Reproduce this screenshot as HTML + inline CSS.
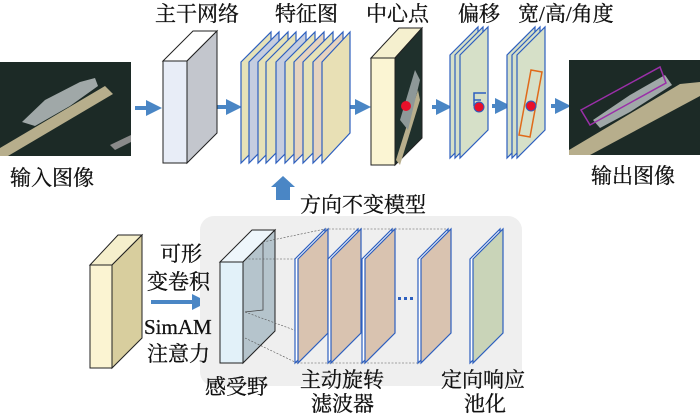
<!DOCTYPE html>
<html><head><meta charset="utf-8"><style>
html,body{margin:0;padding:0;background:#fff}
svg{display:block}
text{font-family:"Liberation Serif","Noto Serif CJK SC","Noto Sans CJK SC",serif;fill:#111;stroke:#111;stroke-width:0.3}
</style></head><body>
<svg width="700" height="418" viewBox="0 0 700 418" xmlns="http://www.w3.org/2000/svg">
<defs>
<marker id="ah" markerWidth="4" markerHeight="4" refX="2" refY="2" orient="auto"><path d="M0,0 L4,2 L0,4z" fill="#4a86c5"/></marker>
</defs>
<g font-size="21">
<text x="155" y="21">主干网络</text>
<text x="275" y="21">特征图</text>
<text x="366" y="21">中心点</text>
<text x="458" y="21">偏移</text>
<text x="518" y="21">宽/高/角度</text>
<text x="10" y="185">输入图像</text>
<text x="591" y="183">输出图像</text>
<text x="300" y="212">方向不变模型</text>
</g>
<!-- input image -->
<rect x="0" y="62" width="131" height="94" fill="#1c2a26"/>
<path d="M0,148 L105,86 L113,94 L8,156 L0,156z" fill="#b7ae8c"/>
<path d="M22,122 L45,100 L80,82 L95,78 L98,86 L70,106 L35,126z" fill="#a0a8a8"/>
<path d="M110,145 L131,135 L131,142 L115,150z" fill="#8a8a8a"/>
<g stroke="#4a86c5" stroke-width="4" fill="none" marker-end="url(#ah)">
<line x1="135" y1="108" x2="154" y2="108"/>
<line x1="216" y1="107" x2="234" y2="107"/>
<line x1="343" y1="107" x2="363" y2="107"/>
<line x1="432" y1="107" x2="444" y2="107"/>
<line x1="492" y1="106" x2="503" y2="106"/>
<line x1="551" y1="106" x2="563" y2="106"/>
<line x1="151" y1="302" x2="200" y2="302"/>
<line x1="452" y1="297" x2="464" y2="297"/>
</g>
<path d="M276,200 V187 H271 L283,176 L295,187 H290 V200z" fill="#4a86c5"/>
<!-- backbone -->
<polygon points="163,61 193,31 217,31 187,61" fill="#fff" stroke="#222"/>
<polygon points="187,61 217,31 217,133 187,163" fill="#c3c6cd" stroke="#222"/>
<rect x="163" y="61" width="24" height="102" fill="#e8edf7" stroke="#222"/>
<g stroke="#2d5fbf" stroke-width="1.2">
<polygon points="241,62 271,32 271,133 241,163" fill="#e6e2b8"/>
<polygon points="249,62 279,32 279,133 249,163" fill="#c5cde0"/>
<polygon points="258,62 288,32 288,133 258,163" fill="#e6e2b8"/>
<polygon points="266,62 296,32 296,133 266,163" fill="#e6e2b8"/>
<polygon points="276,62 306,32 306,133 276,163" fill="#c5cde0"/>
<polygon points="285,62 315,32 315,133 285,163" fill="#e6e2b8"/>
<polygon points="294,62 324,32 324,133 294,163" fill="#e6d3c0"/>
<polygon points="303,62 333,32 333,133 303,163" fill="#e6e2b8"/>
<polygon points="313,62 343,32 343,133 313,163" fill="#e6d3c0"/>
<polygon points="322,62 350,32 350,133 322,163" fill="#e8e0b5"/>
</g>
<!-- center point -->
<polygon points="371,58 399,28 422,28 395,58" fill="#f5f0cf" stroke="#222"/>
<polygon points="395,58 422,28 422,138 395,165" fill="#1f302c" stroke="#222"/>
<path d="M396,160 L418,90 L420,100 L400,165z" fill="#b7ae8c"/>
<path d="M400,120 L415,70 L420,80 L408,130z" fill="#8e9898"/>
<rect x="371" y="58" width="24" height="107" fill="#fbf5d3" stroke="#222"/>
<circle cx="406" cy="106" r="5" fill="#e8102a"/>
<g stroke="#2d5fbf" stroke-width="1.2" fill="#d6e0c8">
<polygon points="450,55 478,27 478,130 450,158"/>
<polygon points="455,55 483,27 483,130 455,158"/>
<polygon points="460,55 488,27 488,130 460,158"/>
</g>
<path d="M474,106 V93 H486 M474,100 H481" stroke="#2d5fbf" stroke-width="1.5" fill="none"/>
<circle cx="479" cy="107" r="5" fill="#e8102a" stroke="#2d5fbf"/>
<g stroke="#2d5fbf" stroke-width="1.2" fill="#d6e0c8">
<polygon points="507,55 535,27 535,130 507,158"/>
<polygon points="512,55 540,27 540,130 512,158"/>
<polygon points="517,55 545,27 545,130 517,158"/>
</g>
<polygon points="531,70 542,72 530,137 519,135" fill="none" stroke="#e06a1a" stroke-width="1.5"/>
<circle cx="531" cy="106" r="5" fill="#e8102a" stroke="#2d5fbf"/>
<!-- output image -->
<rect x="569" y="60" width="131" height="95" fill="#1c2a26"/>
<path d="M569,150 L680,84 L700,82 L700,96 L590,155 L569,155z" fill="#b7ae8c"/>
<path d="M593,120 L630,95 L665,75 L672,85 L630,112 L600,128z" fill="#a0a8a8"/>
<polygon points="581,110 660,67 666,83 590,125" fill="none" stroke="#9a2fa8" stroke-width="1.5"/>
<rect x="200" y="216" width="322" height="170" rx="14" fill="#efefef"/>
<polygon points="90,265 118,235 142,235 112,265" fill="#f5efcc" stroke="#222"/>
<polygon points="112,265 142,235 142,338 112,368" fill="#d8ce9e" stroke="#222"/>
<rect x="90" y="265" width="22" height="103" fill="#fbf4d2" stroke="#222"/>
<g font-size="21">
<text x="160" y="261">可形</text>
<text x="147" y="289">变卷积</text>
<text x="144" y="334">SimAM</text>
<text x="147" y="361">注意力</text>
<text x="205" y="394">感受野</text>
<text x="300" y="387">主动旋转</text>
<text x="311" y="411">滤波器</text>
<text x="441" y="387">定向响应</text>
<text x="464" y="411">池化</text>
</g>
<polygon points="220,262 252,230 275,230 243,262" fill="#eef6fb" stroke="#222"/>
<polygon points="243,262 275,230 275,331 243,363" fill="#b5c4cc" stroke="#222"/>
<polyline points="263,242 263,310 245,312" fill="none" stroke="#444" stroke-width="0.8"/>
<rect x="220" y="262" width="23" height="101" fill="#e2f1f9" stroke="#222"/>
<g stroke="#555" stroke-width="0.6" stroke-dasharray="2,1.5" fill="none">
<line x1="263" y1="242" x2="325" y2="229"/>
<line x1="245" y1="259" x2="297" y2="259"/>
<line x1="245" y1="312" x2="297" y2="331"/>
<line x1="245" y1="338" x2="297" y2="363"/>
<line x1="325" y1="229" x2="448" y2="229"/>
<line x1="297" y1="363" x2="420" y2="363"/>
</g>
<g stroke="#2d5fbf" stroke-width="1.2">
<polygon points="295,259 325,229 325,333 295,363" fill="#fff"/>
<polygon points="298,259 328,229 328,333 298,363" fill="#d9c3b0"/>
<polygon points="328,259 358,229 358,333 328,363" fill="#fff"/>
<polygon points="331,259 361,229 361,333 331,363" fill="#d9c3b0"/>
<polygon points="362,259 392,229 392,333 362,363" fill="#fff"/>
<polygon points="365,259 395,229 395,333 365,363" fill="#d9c3b0"/>
<polygon points="418,259 448,229 448,333 418,363" fill="#fff"/>
<polygon points="421,259 451,229 451,333 421,363" fill="#d9c3b0"/>
<polygon points="470,259 500,229 500,333 470,363" fill="#fff"/>
<polygon points="473,259 503,229 503,333 473,363" fill="#c9d4b8"/>
</g>
<g fill="#2d5fbf"><rect x="398" y="297" width="3" height="3"/><rect x="404" y="297" width="3" height="3"/><rect x="410" y="297" width="3" height="3"/></g>
</svg>
</body></html>
